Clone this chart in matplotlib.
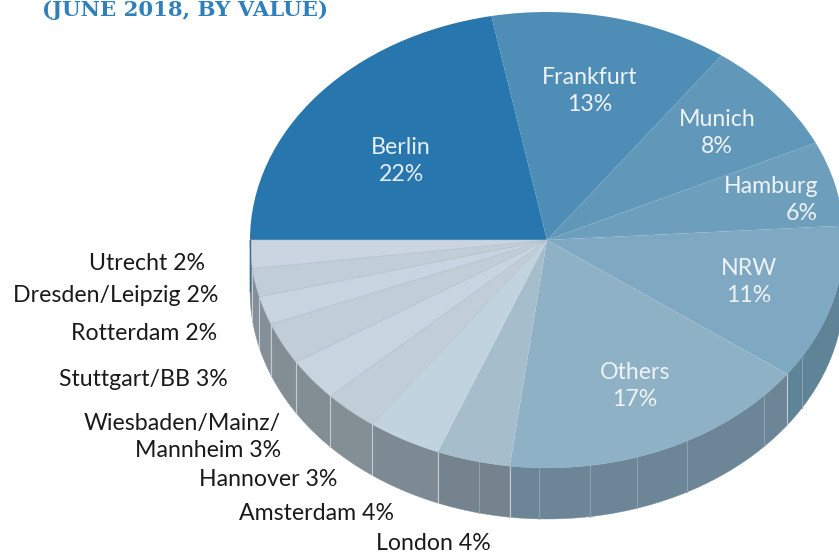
import numpy as np
import matplotlib
matplotlib.use('Agg')
import matplotlib.pyplot as plt

# slices, clockwise from the left edge of the pie
cities = ['Berlin', 'Frankfurt', 'Munich', 'Hamburg', 'NRW', 'Others', 'London', 'Amsterdam',
          'Hannover', 'Wiesbaden/Mainz/\nMannheim', 'Stuttgart/BB', 'Rotterdam', 'Dresden/Leipzig', 'Utrecht']
shares = [22, 13, 8, 6, 11, 17, 4, 4, 3, 3, 3, 2, 2, 2]
top_colors = ['#2876ae', '#4e8db5', '#6198ba', '#6d9fbd', '#7fa9c3', '#8fb1c6', '#a6bdcb', '#c0d3df',
              '#c1ced7', '#c8d5e1', '#c1ced7', '#c8d5e1', '#c1ced7', '#cad5e1']
side_colors = ['#3a6f96', '#4f7f9c', '#5a8299', '#5f8397', '#5f8397', '#6c8698', '#74838e', '#7d8a93',
               '#848f95', '#838e94', '#838e94', '#848f97', '#848f97', '#7f8b93']
# angles of the extra light seams on the rim
seam_angles = [-30.8, -43, -61.9, -72.4, -81.7, -91.5, -103.2]

# pie geometry in pixels
W, H = 839, 552
cx, cy, rx, ry, depth = 547, 240, 297, 228, 51

fig = plt.figure(figsize=(W / 100, H / 100), dpi=100)
ax = fig.add_axes([0, 0, 1, 1])
plt.rcParams['font.family'] = 'Lato'

# rim first, sits below the top face
depth_u = depth / ry
edges = 180 - np.cumsum([0] + shares) * 3.6
for i in range(len(shares)):
    t = np.radians(np.linspace(edges[i], edges[i + 1], 60))
    t = t[np.sin(t) <= 0.0001]
    if len(t) < 2:
        continue
    xs = np.cos(t)
    ys = np.sin(t)
    ax.fill(np.r_[xs, xs[::-1]], np.r_[ys, ys[::-1] - depth_u], color=side_colors[i], lw=0.3)
    ax.plot([xs[-1], xs[-1]], [ys[-1], ys[-1] - depth_u], color='#c3ccd2', lw=0.8)
for a in seam_angles:
    xa, ya = np.cos(np.radians(a)), np.sin(np.radians(a))
    ax.plot([xa, xa], [ya, ya - depth_u], color='#8fa3b0', lw=0.7)
ax.plot([-1, -1], [0, -depth_u], color='#3a6f96', lw=1)

wedges, _ = ax.pie(shares, colors=top_colors, startangle=180, counterclock=False, radius=1,
                   center=(0, 0), frame=True,
                   wedgeprops={'edgecolor': 'none', 'linewidth': 0})
for i, w in enumerate(wedges):
    if i >= 8:
        w.set_edgecolor('#b3c0cb')
        w.set_linewidth(0.4)

ax.set_aspect('auto')
ax.set_xlim(-cx / rx, (W - cx) / rx)
ax.set_ylim(-(H - cy) / ry, cy / ry)
ax.axis('off')


def put(x, y, s, **kw):
    fig.text(x / W, 1 - y / H, s, va='center', fontsize=16.7, **kw)


# labels on the pie
put(401, 161, 'Berlin\n22%', color='#e6eef5', ha='center', linespacing=1.4)
put(590, 91, 'Frankfurt\n13%', color='#eef3f7', ha='center', linespacing=1.4)
put(717, 133, 'Munich\n8%', color='#eef3f7', ha='center', linespacing=1.4)
put(818, 200, 'Hamburg\n6%', color='#eef3f7', ha='right', linespacing=1.4)
put(749, 282, 'NRW\n11%', color='#eef3f7', ha='center', linespacing=1.4)
put(635, 386, 'Others\n17%', color='#eef3f7', ha='center', linespacing=1.4)

# labels outside
put(205, 263, 'Utrecht 2%', color='#1a1a1a', ha='right')
put(218, 296, 'Dresden/Leipzig 2%', color='#1a1a1a', ha='right')
put(217, 333, 'Rotterdam 2%', color='#1a1a1a', ha='right')
put(228, 379, 'Stuttgart/BB 3%', color='#1a1a1a', ha='right')
put(281, 437, 'Wiesbaden/Mainz/\nMannheim 3%', color='#1a1a1a', ha='right', linespacing=1.4)
put(337, 480, 'Hannover 3%', color='#1a1a1a', ha='right')
put(394, 513, 'Amsterdam 4%', color='#1a1a1a', ha='right')
put(491, 543, 'London 4%', color='#1a1a1a', ha='right')

fig.text(42 / W, 1 - 16 / H, '(JUNE 2018, BY VALUE)', color='#2f80ba', fontsize=15.3,
         family='DejaVu Serif', fontweight='bold', ha='left', va='baseline')

fig.savefig('out.png', dpi=100)
